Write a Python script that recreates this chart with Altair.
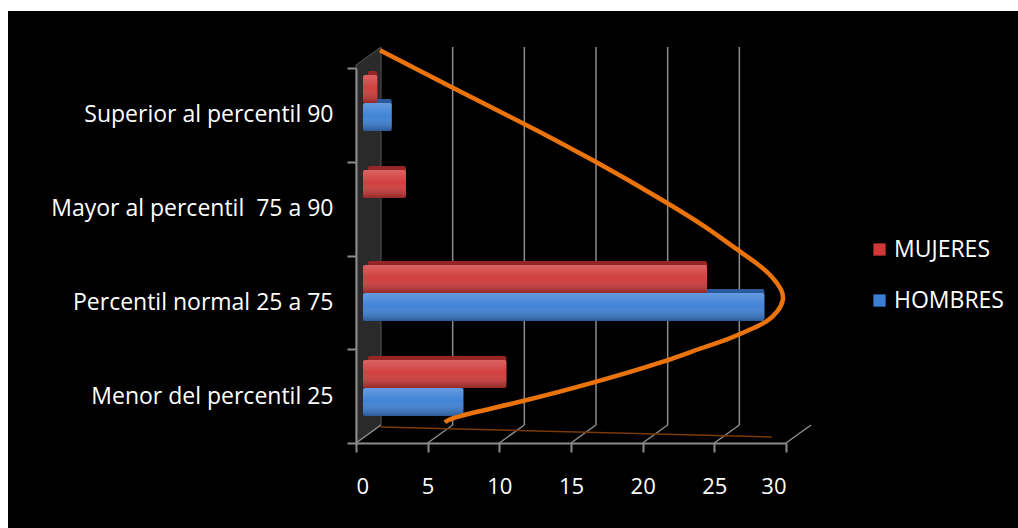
import altair as alt
import pandas as pd

# ---- data -------------------------------------------------------------
categories = [
    "Superior al percentil 90",
    "Mayor al percentil\u00a0 75 a 90",
    "Percentil normal 25 a 75",
    "Menor del percentil 25",
]
series = ["MUJERES", "HOMBRES"]
mujeres = [1, 3, 24, 10]
hombres = [2, 0, 28, 7]
x_ticks = [0, 5, 10, 15, 20, 25, 30]
grid_ticks = [5, 10, 15, 20, 25]

# bell-shaped trend curve: value on the x scale, level in category units (0 = floor, 4 = top)
curve_value = [1.67, 6.56, 11.58, 16.54, 21.42, 24.49, 26.31, 27.98, 29.10, 29.73, 29.87,
               29.45, 28.68, 27.49, 25.89, 24.01, 21.42, 16.54, 11.58, 6.56, 6.21]
curve_level = [4.19, 3.80, 3.42, 3.02, 2.59, 2.30, 2.09, 1.92, 1.77, 1.63, 1.53,
               1.40, 1.29, 1.21, 1.10, 1.01, 0.86, 0.64, 0.44, 0.27, 0.22]

# faint reflection of the curve on the floor
shadow_value = [1.7, 29.0]
shadow_level = [0.17, 0.064]

# ---- layout -----------------------------------------------------------
W, H = 430, 375            # plot area
DEPTH_X, DEPTH_Y = 25, 18  # 3D depth of the back wall (px)
FONT = "Open Sans"
GRAY = "#8c8c8c"
colors = ["#d03838", "#3b7fd6"]
side_colors = ["#962626", "#2a5a9e"]

bars = pd.DataFrame(
    [{"cat": c, "series": "MUJERES", "value": v} for c, v in zip(categories, mujeres)]
    + [{"cat": c, "series": "HOMBRES", "value": v} for c, v in zip(categories, hombres)]
)
curve = pd.DataFrame({"i": range(len(curve_value)), "value": curve_value, "lvl": curve_level})
shadow = pd.DataFrame({"i": range(len(shadow_value)), "value": shadow_value, "lvl": shadow_level})
ticks_df = pd.DataFrame({"v": x_ticks})
grid_df = pd.DataFrame({"v": grid_ticks})
one = pd.DataFrame({"a": [0]})

x_axis = alt.Axis(
    values=x_ticks, grid=False, title=None, domainColor=GRAY, domainWidth=2,
    tickColor=GRAY, tickWidth=2, tickSize=9, labelColor="white", labelFont=FONT,
    labelFontSize=22, labelPadding=24, zindex=1,
)
x_scale = alt.Scale(domain=[0, 30], nice=False, zero=True)
lvl_scale = alt.Scale(domain=[0, 4], nice=False, zero=False)
unit = 30 / W
px_per_lvl = H / 4

# white page margin round the black chart
strips = alt.layer(
    alt.Chart(one).mark_rect(color="white").encode(
        x=alt.value(-356), x2=alt.value(-348), y=alt.value(-68), y2=alt.value(H + 85)),
    alt.Chart(one).mark_rect(color="white").encode(
        x=alt.value(-356), x2=alt.value(W + 232), y=alt.value(-68), y2=alt.value(-57)),
)

# dark side wall on the left
wall_df = pd.DataFrame({
    "value": [0, DEPTH_X * unit],
    "top": [4 + 3 / px_per_lvl, 4 + 21 / px_per_lvl],
    "bottom": [0, DEPTH_Y / px_per_lvl],
})
wall = alt.Chart(wall_df).mark_area(color="#2a2a2a", stroke="#555555", strokeWidth=1).encode(
    x=alt.X("value:Q", scale=x_scale, axis=x_axis),
    y=alt.Y("top:Q", scale=lvl_scale, axis=None),
    y2="bottom:Q",
)

# back-wall gridlines
grid = alt.Chart(grid_df).mark_rule(color=GRAY, strokeWidth=1.5, xOffset=DEPTH_X).encode(
    x=alt.X("v:Q", scale=x_scale, axis=x_axis),
    y=alt.value(-21), y2=alt.value(H - DEPTH_Y),
)

# floor diagonals
floor = alt.Chart(ticks_df).mark_rule(color=GRAY, strokeWidth=1.5, x2Offset=DEPTH_X).encode(
    x=alt.X("v:Q", scale=x_scale, axis=x_axis), x2="v:Q",
    y=alt.value(H), y2=alt.value(H - DEPTH_Y),
)

floor_shadow = alt.Chart(shadow).mark_line(color="#7a3a06", strokeWidth=1.5).encode(
    x=alt.X("value:Q", scale=x_scale, axis=x_axis),
    y=alt.Y("lvl:Q", scale=lvl_scale, axis=None),
    order="i:Q",
)

# category axis
cat_axis = alt.Chart(pd.DataFrame({"cat": categories})).mark_point(opacity=0).encode(
    x=alt.value(0),
    y=alt.Y("cat:N", sort=categories,
            scale=alt.Scale(type="band", domain=categories, paddingInner=0, paddingOuter=0),
            axis=alt.Axis(title=None, tickBand="extent", domainColor=GRAY, domainWidth=2,
                          tickColor=GRAY, tickWidth=2, tickSize=9, labelColor="white",
                          labelFont=FONT, labelFontSize=23, labelPadding=14,
                          labelLimit=400, zindex=1)),
)

bar_y = alt.Y("cat:N", sort=categories, axis=None,
              scale=alt.Scale(domain=categories, range=[7, 348], paddingInner=0.41, paddingOuter=0))
bar_y_back = alt.Y("cat:N", sort=categories, axis=None,
                   scale=alt.Scale(domain=categories, range=[3, 344], paddingInner=0.41, paddingOuter=0))
bar_off = alt.YOffset("series:N", sort=series, scale=alt.Scale(paddingInner=0, paddingOuter=0))
visible = alt.datum.value > 0

# bar depth (top and end faces)
bar_side = alt.Chart(bars).transform_filter(visible).mark_bar(
    xOffset=7, x2Offset=12, cornerRadius=2).encode(
    x=alt.X("value:Q", scale=x_scale, axis=x_axis), x2=alt.datum(0),
    y=bar_y_back, yOffset=bar_off,
    color=alt.condition(alt.datum.series == "MUJERES", alt.value(side_colors[0]), alt.value(side_colors[1])),
)

bar_front = alt.Chart(bars).transform_filter(visible).mark_bar(
    xOffset=7, x2Offset=7, cornerRadius=2).encode(
    x=alt.X("value:Q", scale=x_scale, axis=x_axis), x2=alt.datum(0),
    y=bar_y, yOffset=bar_off,
    color=alt.Color("series:N", sort=series,
                    scale=alt.Scale(domain=series, range=colors),
                    legend=alt.Legend(title=None, orient="none", legendX=512, legendY=170,
                                      symbolType="square", symbolSize=150, symbolStrokeWidth=0,
                                      labelColor="white", labelFont=FONT, labelFontSize=23,
                                      rowPadding=27, labelOffset=3)),
)

bar_shine = alt.Chart(bars).transform_filter(visible).mark_bar(
    xOffset=7, x2Offset=7, cornerRadius=2,
    fill=alt.Gradient(gradient="linear", x1=0, x2=0, y1=0, y2=1, stops=[
        alt.GradientStop(color="rgba(255,255,255,0.22)", offset=0),
        alt.GradientStop(color="rgba(255,255,255,0.04)", offset=0.45),
        alt.GradientStop(color="rgba(0,0,0,0.30)", offset=1),
    ])).encode(
    x=alt.X("value:Q", scale=x_scale, axis=x_axis), x2=alt.datum(0),
    y=bar_y, yOffset=bar_off,
)

trend = alt.Chart(curve).mark_line(color="#ea730c", strokeWidth=4.5, interpolate="basis").encode(
    x=alt.X("value:Q", scale=x_scale, axis=x_axis),
    y=alt.Y("lvl:Q", scale=lvl_scale, axis=None),
    order="i:Q",
)

chart = alt.layer(
    strips, wall, grid, floor, floor_shadow, cat_axis, bar_side, bar_front, bar_shine, trend
).resolve_scale(
    y="independent", yOffset="independent"
).properties(
    width=W, height=H, background="black",
    autosize=alt.AutoSizeParams(type="none"),
    padding={"left": 356, "top": 68, "right": 232, "bottom": 85},
).configure_view(stroke=None)

chart.save("out.html", embed_options={"renderer": "svg", "actions": False})
